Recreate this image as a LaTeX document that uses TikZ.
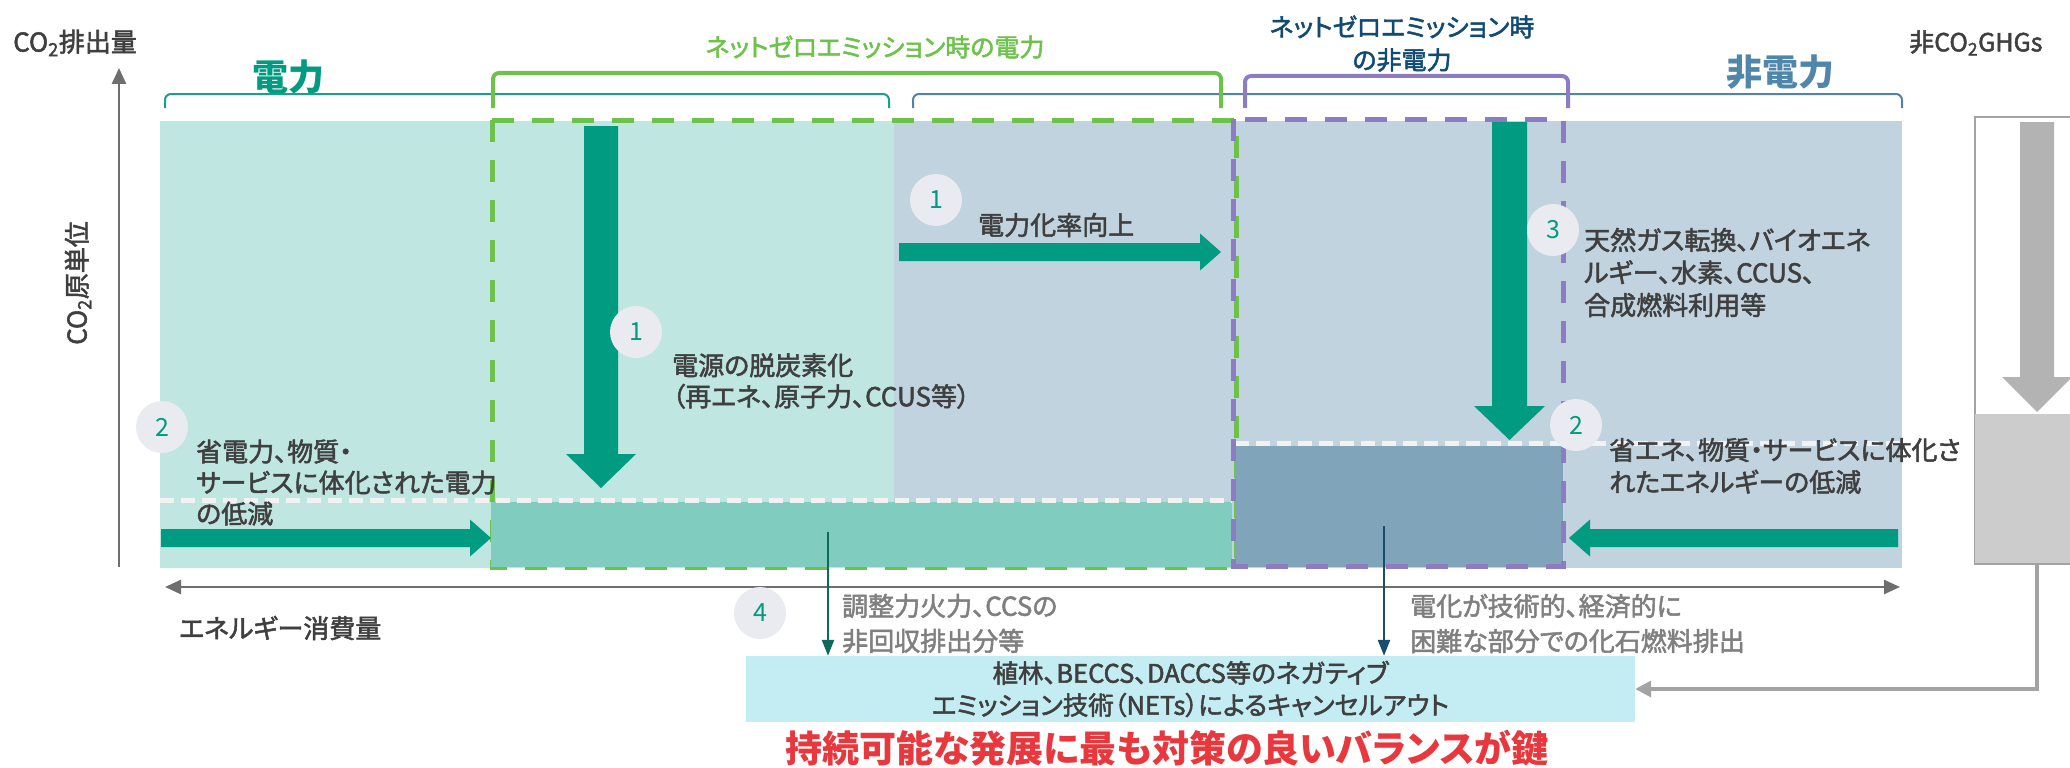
\documentclass[tikz,border=0pt]{standalone}
\usepackage{fontspec}
\setmainfont{Noto Sans CJK JP}[RawFeature={+palt}]
\newfontfamily\medfont{Noto Sans CJK JP}[RawFeature={+palt},FakeBold=2]
\usetikzlibrary{arrows.meta}
\definecolor{elecbg}{HTML}{BFE6E1}
\definecolor{nonbg}{HTML}{C0D3DF}
\definecolor{elecblk}{HTML}{80CDBF}
\definecolor{nonblk}{HTML}{80A4B9}
\definecolor{arrteal}{HTML}{009B80}
\definecolor{circbg}{HTML}{E9EBF0}
\definecolor{txtdark}{HTML}{3F3F3F}
\definecolor{txtgray}{HTML}{7F7F7F}
\definecolor{nzgreen}{HTML}{6CC24A}
\definecolor{nzpurple}{HTML}{8E7CC3}
\definecolor{hdrblue}{HTML}{114A72}
\definecolor{nonlabel}{HTML}{4F86AA}
\definecolor{bracketteal}{HTML}{1AA08A}
\definecolor{bracketblue}{HTML}{5083A5}
\definecolor{netsbg}{HTML}{C3EDF2}
\definecolor{keyred}{HTML}{E8383D}
\definecolor{ghgarrow}{HTML}{B3B3B3}
\definecolor{ghgbox}{HTML}{CCCCCC}
\definecolor{ghgline}{HTML}{A3A3A3}
\definecolor{axisgray}{HTML}{6E6E6E}
\definecolor{conteal}{HTML}{0E6B5C}
\definecolor{conblue}{HTML}{1A4C70}
\begin{document}
\begin{tikzpicture}[x=1pt,y=-1pt,
  body/.style={inner sep=0pt,text=txtdark,align=left,font=\medfont\fontsize{26pt}{31pt}\selectfont},
  graytxt/.style={inner sep=0pt,text=txtgray,align=left,font=\medfont\fontsize{26pt}{35pt}\selectfont},
  numc/.style={circle,fill=circbg,minimum size=52pt,inner sep=0pt,text=arrteal,font=\fontsize{25pt}{25pt}\selectfont},
  axisline/.style={draw=axisgray,line width=2.5pt},
  bigarrow/.style={fill=arrteal},
  nzgdash/.style={draw=nzgreen,line width=5pt,dash pattern=on 22pt off 18pt},
  nzpdash/.style={draw=nzpurple,line width=5pt,dash pattern=on 22pt off 18pt},
  whitedash/.style={draw=white!95!black,line width=5pt,dash pattern=on 14pt off 7pt},
  bracket/.style={rounded corners=6pt},
]
\useasboundingbox (0,0) rectangle (2070,768);

% ---- regions
\fill[elecbg] (160,121) rectangle (894,568);
\fill[nonbg] (894,121) rectangle (1902,568);

% ---- net zero electric dashed box and block
\draw[nzgdash] (492,120) rectangle (1236,567);
\fill[elecblk] (491,502) rectangle (1232,567);
\draw[whitedash] (160,500) -- (1232,500);

% ---- net zero non-electric block
\fill[nonblk] (1235,446) rectangle (1563,567);
\draw[whitedash] (1235,443) -- (1902,443);
\draw[nzpdash] (1233,119) rectangle (1563,566);

% ---- brackets
\draw[bracket,draw=bracketteal,line width=2pt] (165,108) -- (165,94) -- (889,94) -- (889,108);
\draw[bracket,draw=bracketblue,line width=2pt] (913,108) -- (913,94) -- (1902,94) -- (1902,108);
\draw[bracket,draw=nzgreen,line width=4pt] (493,108) -- (493,73) -- (1221,73) -- (1221,108);
\draw[bracket,draw=nzpurple,line width=4pt] (1245,108) -- (1245,76) -- (1568,76) -- (1568,108);

% ---- headings
\node[text=arrteal,font=\fontsize{36pt}{36pt}\selectfont\bfseries] (lblelec) at (288,77) {電力};
\node[text=nonlabel,font=\fontsize{36pt}{36pt}\selectfont\bfseries] (lblnon) at (1780,72) {非電力};
\node[text=nzgreen,font=\medfont\fontsize{25pt}{25pt}\selectfont] (lblnzel) at (875,47) {ネットゼロエミッション時の電力};
\node[text=hdrblue,align=center,font=\medfont\fontsize{25pt}{33pt}\selectfont] (lblnznon) at (1402,43.5) {ネットゼロエミッション時\\の非電力};
\node[text=txtdark,anchor=west,inner sep=0pt,font=\medfont\fontsize{25pt}{25pt}\selectfont] (lblghg) at (1909,43) {非CO\textsubscript{2}GHGs};
\node[text=txtdark,anchor=west,inner sep=0pt,font=\medfont\fontsize{26pt}{26pt}\selectfont] (lblco2) at (13,43) {CO\textsubscript{2}排出量};
\node[text=txtdark,rotate=90,font=\medfont\fontsize{26pt}{26pt}\selectfont] (lblint) at (78,283) {CO\textsubscript{2}原単位};
\node[text=txtdark,anchor=west,inner sep=0pt,font=\medfont\fontsize{26pt}{26pt}\selectfont] (lblenergy) at (179,628) {エネルギー消費量};

% ---- axes
\coordinate (ybot) at (119,567);
\coordinate (ytop) at (119,68);
\coordinate (xl) at (165,587);
\coordinate (xr) at (1900,587);
\draw[axisline,-{Triangle[length=16pt,width=14pt]}] (ybot) -- (ytop);
\draw[axisline,{Triangle[length=16pt,width=14pt]}-{Triangle[length=16pt,width=14pt]}] (xl) -- (xr);

% ---- big arrows
\fill[bigarrow] (584,126) -- (618,126) -- (618,454) -- (636,454) -- (601,488) -- (566,454) -- (584,454) -- cycle;
\fill[bigarrow] (1492,122) -- (1527,122) -- (1527,406) -- (1545,406) -- (1509.5,440) -- (1474,406) -- (1492,406) -- cycle;
\fill[bigarrow] (899,243) -- (1200,243) -- (1200,233.5) -- (1221,252) -- (1200,270.5) -- (1200,261) -- (899,261) -- cycle;
\fill[bigarrow] (161,529) -- (470,529) -- (470,519.5) -- (491,538) -- (470,556.5) -- (470,547) -- (161,547) -- cycle;
\fill[bigarrow] (1898,529) -- (1590,529) -- (1590,519.5) -- (1569,538) -- (1590,556.5) -- (1590,547) -- (1898,547) -- cycle;

% ---- texts in regions
\node[body,anchor=west] (txtsave) at (196,482.5) {省電力、物質・\\サービスに体化された電力\\の低減};
\node[body,anchor=west] (txtdecarb) at (672,381) {電源の脱炭素化\\（再エネ、原子力、CCUS等）};
\node[body,anchor=west] (txtelrate) at (978,225) {電力化率向上};
\node[body,anchor=west,font=\medfont\fontsize{26pt}{32.5pt}\selectfont] (txtfuel) at (1584,272.5) {天然ガス転換、バイオエネ\\ルギー、水素、CCUS、\\合成燃料利用等};
\node[body,anchor=west,font=\medfont\fontsize{26pt}{32pt}\selectfont] (txtsaveen) at (1609,466) {省エネ、物質・サービスに体化さ\\れたエネルギーの低減};

% ---- number circles
\node[numc] (c1a) at (636,332) {1};
\node[numc] (c1b) at (936,200) {1};
\node[numc] (c2a) at (162,427) {2};
\node[numc] (c2b) at (1576,425) {2};
\node[numc] (c3) at (1553,230) {3};
\node[numc] (c4) at (760,613) {4};

% ---- non-CO2 GHG
\draw[draw=ghgline,line width=2pt] (1975,565) -- (1975,117) -- (2085,117);
\node[fill=ghgbox,anchor=north west,minimum width=120pt,minimum height=150pt,inner sep=0pt] (ghgblk) at (1975,414) {};
\draw[draw=ghgline,line width=2pt] (1975,564) -- (2085,564);
\fill[ghgarrow] (2020,122) -- (2054,122) -- (2054,377) -- (2072,377) -- (2037,412) -- (2002,377) -- (2020,377) -- cycle;

% ---- NETs box
\node[fill=netsbg,minimum width=889pt,minimum height=66pt,inner sep=0pt,align=center,text=txtdark,font=\medfont\fontsize{25.5pt}{32pt}\selectfont] (nets) at (1190.5,689) {植林、BECCS、DACCS等のネガティブ\\エミッション技術（NETs）によるキャンセルアウト};

% ---- connectors
\coordinate (tealsrc) at (828,532);
\coordinate (bluesrc) at (1384,526);
\coordinate (ghgsrc) at (2037,565);
\draw[draw=conteal,line width=2.5pt,-{Triangle[length=16pt,width=12pt]}] (tealsrc) -- (tealsrc |- nets.north);
\draw[draw=conblue,line width=2.5pt,-{Triangle[length=16pt,width=12pt]}] (bluesrc) -- (bluesrc |- nets.north);
\draw[draw=ghgline,line width=3.5pt,-{Triangle[length=16pt,width=16pt]}] (ghgsrc) |- (nets.east);

% ---- gray explanatory texts
\node[graytxt,anchor=west] (txtres) at (842,623.5) {調整力火力、CCSの\\非回収排出分等};
\node[graytxt,anchor=west] (txthard) at (1410,623.5) {電化が技術的、経済的に\\困難な部分での化石燃料排出};

% ---- key message
\node[text=keyred,font=\fontsize{37pt}{37pt}\selectfont\bfseries] (keymsg) at (1167,748) {持続可能な発展に最も対策の良いバランスが鍵};
\end{tikzpicture}
\end{document}
